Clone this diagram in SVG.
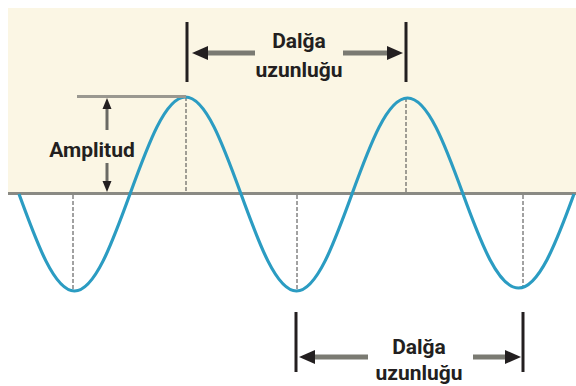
<svg xmlns="http://www.w3.org/2000/svg" width="576" height="386" viewBox="0 0 576 386">
<defs>
<style>
.lbl{font-family:Roboto,"Liberation Sans",sans-serif;font-weight:bold;font-size:21px;fill:#231f20;text-anchor:middle}
.bar{stroke:#231f20;stroke-width:3;fill:none}
.shaft{stroke:#7a7a72;stroke-width:5;fill:none}
.dash{stroke:#444;stroke-width:1;stroke-dasharray:4 2;fill:none}
.head{fill:#231f20}
</style>
</defs>
<rect x="0" y="0" width="576" height="386" fill="#ffffff"/>
<rect x="8" y="8" width="568" height="185" fill="#fbf6e4"/>
<g id="axis">
<line x1="8" y1="193.5" x2="576" y2="193.5" stroke="#8a8a84" stroke-width="3"/>
</g>
<g id="guides">
<line class="dash" x1="73" y1="195" x2="73" y2="291"/>
<line class="dash" x1="186" y1="97" x2="186" y2="192"/>
<line class="dash" x1="406" y1="98" x2="406" y2="192"/>
<line class="dash" x1="297" y1="195" x2="297" y2="290"/>
<line class="dash" x1="523" y1="195" x2="523" y2="287"/>
</g>
<g id="wave">
<path d="M19,194 C37.1,243.7 54.4,291 74.5,291 C94.6,291 111.9,243.7 130,194 C148.1,144.3 165.4,97 185.5,97 C205.6,97 222.9,144.3 241,194 C259.1,243.7 276.4,291 296.5,291 C316.6,291 333.9,243.7 352,194 C370.1,144.3 387.4,98 407.5,98 C427.6,98 444.9,144.3 463,194 C481.1,243.7 498.4,288 518.5,288 C538.6,288 555.9,243.7 574,194" fill="none" stroke="#2b9cc2" stroke-width="3.2"/>
</g>
<g id="amplitude">
<line x1="77" y1="96.5" x2="186" y2="96.5" stroke="#9a9890" stroke-width="3"/>
<line x1="107" y1="106" x2="107" y2="130" stroke="#6a6a64" stroke-width="3"/>
<polygon class="head" points="107,98 102.5,109 111.5,109"/>
<line x1="107" y1="163" x2="107" y2="182" stroke="#6a6a64" stroke-width="3"/>
<polygon class="head" points="107,192 102.5,181 111.5,181"/>
<text class="lbl" x="92" y="157">Amplitud</text>
</g>
<g id="wavelength-top">
<line class="bar" x1="187" y1="22" x2="187" y2="82"/>
<line class="bar" x1="406" y1="22" x2="406" y2="82"/>
<line class="shaft" x1="205" y1="53" x2="255" y2="53"/>
<polygon class="head" points="192,53 208,46 208,60"/>
<line class="shaft" x1="343" y1="53" x2="389" y2="53"/>
<polygon class="head" points="403,53 387,46 387,60"/>
<text class="lbl" x="299" y="48">Dalğa</text>
<text class="lbl" x="299" y="77">uzunluğu</text>
</g>
<g id="wavelength-bottom">
<line class="bar" x1="296" y1="312" x2="296" y2="372"/>
<line class="bar" x1="523" y1="312" x2="523" y2="372"/>
<line class="shaft" x1="313" y1="357" x2="368" y2="357"/>
<polygon class="head" points="299,357 315,350 315,364"/>
<line class="shaft" x1="473" y1="357" x2="507" y2="357"/>
<polygon class="head" points="521,357 505,350 505,364"/>
<text class="lbl" x="419" y="354">Dalğa</text>
<text class="lbl" x="419" y="380">uzunluğu</text>
</g>
</svg>
